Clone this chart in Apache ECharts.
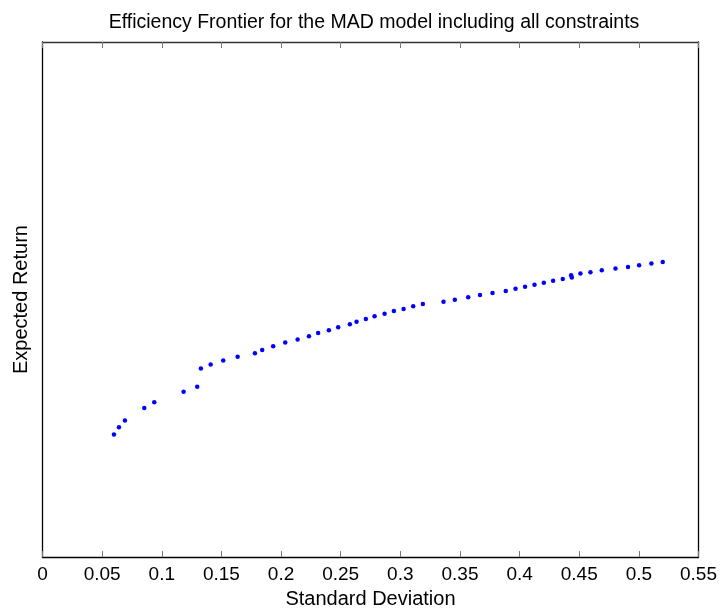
<!DOCTYPE html>
<html>
<head>
<meta charset="utf-8">
<script src="https://cdn.jsdelivr.net/npm/echarts@6/dist/echarts.min.js"></script>
<style>
html,body{margin:0;padding:0;background:#fff;}
#chart{width:720px;height:614px;}
</style>
</head>
<body>
<div id="chart"></div>
<script>
// Standard deviation (x) of each frontier portfolio
var stdDev = [0.0599,0.0641,0.0691,0.0853,0.0937,0.1183,0.1297,0.1328,0.1410,0.1515,
  0.1636,0.1781,0.1842,0.1934,0.2035,0.2139,0.2234,0.2311,0.2401,0.2479,
  0.2577,0.2633,0.2711,0.2784,0.2868,0.2946,0.3027,0.3108,0.3189,0.3362,
  0.3457,0.3569,0.3668,0.3773,0.3884,0.3966,0.4046,0.4125,0.4203,0.4281,
  0.4362,0.4432,0.4438,0.4510,0.4594,0.4689,0.4804,0.4909,0.5002,0.5105,0.5200];
// Expected return (y), relative units (axis has no labels)
var expReturn = [0.2379,0.2520,0.2650,0.2896,0.3004,0.3211,0.3308,0.3662,0.3739,0.3816,
  0.3888,0.3959,0.4023,0.4095,0.4164,0.4222,0.4288,0.4352,0.4404,0.4462,
  0.4520,0.4571,0.4623,0.4675,0.4725,0.4778,0.4816,0.4868,0.4913,0.4957,
  0.4996,0.5043,0.5089,0.5126,0.5164,0.5209,0.5248,0.5286,0.5325,0.5364,
  0.5397,0.5474,0.5429,0.5507,0.5532,0.5571,0.5604,0.5634,0.5667,0.5700,0.5731];
var xTicks = ['0','0.05','0.1','0.15','0.2','0.25','0.3','0.35','0.4','0.45','0.5','0.55'];
var titleText = 'Efficiency Frontier for the MAD model including all constraints';
var xName = 'Standard Deviation';
var yName = 'Expected Return';

var points = stdDev.map(function(x,i){ return [x, expReturn[i]]; });
var font = 'Liberation Sans, Arial, Helvetica, sans-serif';
var chart = echarts.init(document.getElementById('chart'), null, {renderer:'canvas'});
chart.setOption({
  animation:false,
  backgroundColor:'#fff',
  title:{text:titleText, left:369, top:8, textAlign:'center',
    textStyle:{fontFamily:font, fontSize:19.5, fontWeight:'normal', color:'#000'}},
  grid:{left:42.5, right:21.3, top:42, bottom:55},
  xAxis:[{
    type:'value', min:0, max:0.55, interval:0.05, position:'bottom',
    name:xName, nameLocation:'middle', nameGap:30,
    nameTextStyle:{fontFamily:font, fontSize:20, color:'#000'},
    axisLine:{show:true, onZero:false, lineStyle:{color:'#000', width:1.3}},
    axisTick:{show:true, inside:true, length:6, lineStyle:{color:'#777'}},
    axisLabel:{fontFamily:font, fontSize:19, color:'#000', margin:8,
      formatter:function(v){ return xTicks[Math.round(v/0.05)]; }},
    splitLine:{show:false}
  },{
    type:'value', min:0, max:0.55, interval:0.05, position:'top',
    axisLine:{show:true, onZero:false, lineStyle:{color:'#333', width:1.3}},
    axisTick:{show:true, inside:true, length:6, lineStyle:{color:'#777'}},
    axisLabel:{show:false}, splitLine:{show:false}
  }],
  yAxis:[{
    type:'value', min:0, max:1, position:'left',
    name:yName, nameLocation:'middle', nameGap:11, nameRotate:90,
    nameTextStyle:{fontFamily:font, fontSize:20, color:'#000'},
    axisLine:{show:true, onZero:false, lineStyle:{color:'#000', width:1.3}},
    axisTick:{show:false}, axisLabel:{show:false}, splitLine:{show:false}
  },{
    type:'value', min:0, max:1, position:'right',
    axisLine:{show:true, onZero:false, lineStyle:{color:'#000', width:1.3}},
    axisTick:{show:false}, axisLabel:{show:false}, splitLine:{show:false}
  }],
  series:[{
    type:'scatter', xAxisIndex:0, yAxisIndex:0,
    data:points, symbol:'circle', symbolSize:4.5,
    itemStyle:{color:'#0000ff', opacity:1}
  }]
});
</script>
</body>
</html>
